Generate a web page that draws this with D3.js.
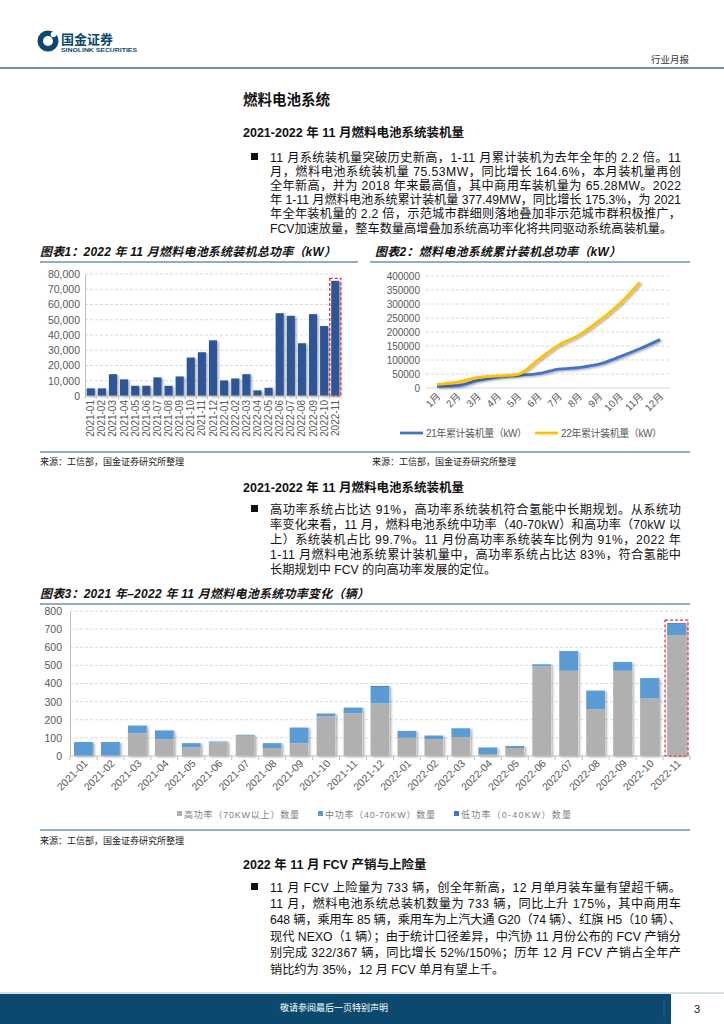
<!DOCTYPE html>
<html>
<head>
<meta charset="utf-8">
<script src="https://cdn.jsdelivr.net/npm/d3@7"></script>
<style>
  body { margin: 0; background: #fff; }
  svg { display: block; font-family: "Liberation Sans", Arial, "Noto Sans CJK SC", sans-serif; }
</style>
</head>
<body>
<div id="page"></div>
<script>
// 图表1 数据: 月度装机总功率 (kW)
const months1 = ["2021-01","2021-02","2021-03","2021-04","2021-05","2021-06","2021-07","2021-08","2021-09","2021-10","2021-11","2021-12",
  "2022-01","2022-02","2022-03","2022-04","2022-05","2022-06","2022-07","2022-08","2022-09","2022-10","2022-11"];
const power1 = [5000,5000,14300,10900,6700,6700,12200,6700,12800,25200,28700,36500,
  10200,11500,14300,3700,5400,54300,52600,34600,53700,45900,75530];
const yTicks1 = [0,10000,20000,30000,40000,50000,60000,70000,80000];

// 图表2 数据: 累计装机量 (kW)
const months2 = ["1月","2月","3月","4月","5月","6月","7月","8月","9月","10月","11月","12月"];
const cum21 = [6000,8000,26000,39000,45000,51000,67000,73000,85000,111000,140000,173000];
const cum22 = [13000,21000,37000,43000,49000,101000,153000,189000,240000,300000,377490];
const yTicks2 = [0,50000,100000,150000,200000,250000,300000,350000,400000];
const seriesNames2 = ["21年累计装机量（kW）","22年累计装机量（kW）"];

// 图表3 数据: 功率变化 (辆)
const months3 = months1;
const highCnt = [0,0,126,93,48,75,112,44,70,218,236,290,100,93,104,11,44,495,470,257,470,317,667];
const midCnt  = [77,77,42,48,23,5,5,27,87,14,31,91,29,20,49,36,11,11,109,104,49,113,61];
const lowCnt  = [0,0,0,0,0,0,0,0,0,2,0,5,8,0,0,0,0,0,0,0,0,0,5];
const yTicks3 = [0,100,200,300,400,500,600,700,800];
const seriesNames3 = ["高功率（70KW以上）数量","中功率（40-70KW）数量","低功率（0-40KW）数量"];

// 正文
const para1 = [
  "11 月系统装机量突破历史新高，1-11 月累计装机为去年全年的 2.2 倍。11",
  "月，燃料电池系统装机量 75.53MW，同比增长 164.6%，本月装机量再创",
  "全年新高，并为 2018 年来最高值，其中商用车装机量为 65.28MW。2022",
  "年 1-11 月燃料电池系统累计装机量 377.49MW，同比增长 175.3%，为 2021",
  "年全年装机量的 2.2 倍，示范城市群细则落地叠加非示范城市群积极推广，",
  "FCV加速放量，整车数量高增叠加系统高功率化将共同驱动系统高装机量。"
];
const para2 = [
  "高功率系统占比达 91%，高功率系统装机符合氢能中长期规划。从系统功",
  "率变化来看，11 月，燃料电池系统中功率（40-70kW）和高功率（70kW 以",
  "上）系统装机占比 99.7%。11 月份高功率系统装车比例为 91%，2022 年",
  "1-11 月燃料电池系统累计装机量中，高功率系统占比达 83%，符合氢能中",
  "长期规划中 FCV 的向高功率发展的定位。"
];
const para3 = [
  "11 月 FCV 上险量为 733 辆，创全年新高，12 月单月装车量有望超千辆。",
  "11 月，燃料电池系统总装机数量为 733 辆，同比上升 175%，其中商用车",
  "648 辆，乘用车 85 辆，乘用车为上汽大通 G20（74 辆）、红旗 H5（10 辆）、",
  "现代 NEXO（1 辆）；由于统计口径差异，中汽协 11 月份公布的 FCV 产销分",
  "别完成 322/367 辆，同比增长 52%/150%；历年 12 月 FCV 产销占全年产",
  "销比约为 35%，12 月 FCV 单月有望上千。"
];

const W = 724, H = 1024;
const svg = d3.select("#page").append("svg").attr("width", W).attr("height", H);
svg.append("rect").attr("width", W).attr("height", H).attr("fill", "#fff");

const defs = svg.append("defs");
defs.append("filter").attr("id", "sh").attr("x", "-30%").attr("y", "-10%").attr("width", "170%").attr("height", "130%")
  .append("feDropShadow").attr("dx", 1.6).attr("dy", 1).attr("stdDeviation", 0.9)
  .attr("flood-color", "#000").attr("flood-opacity", 0.35);

const ruleColor = "#6b93ae";
const axisText = "#595959";
const gridColor = "#d0d0d0";

// ---------- 页眉 ----------
const logo = svg.append("g");
logo.append("circle").attr("cx", 48).attr("cy", 41).attr("r", 7.8).attr("fill", "none")
  .attr("stroke", "#0b4a6e").attr("stroke-width", 5.5);
logo.append("circle").attr("cx", 53.5).attr("cy", 34.5).attr("r", 2.8).attr("fill", "#fff");
logo.append("text").attr("x", 61).attr("y", 44).attr("font-size", 13).attr("font-weight", "bold")
  .attr("fill", "#0b4a6e").attr("font-family", "Noto Sans CJK SC").text("国金证券");
logo.append("text").attr("x", 61).attr("y", 51.5).attr("font-size", 5.8).attr("font-weight", "bold")
  .attr("fill", "#0b4a6e").attr("textLength", 76).attr("lengthAdjust", "spacingAndGlyphs").text("SINOLINK SECURITIES");
svg.append("text").attr("x", 689).attr("y", 63).attr("text-anchor", "end").attr("font-size", 9.5)
  .attr("fill", "#333").attr("font-family", "Noto Sans CJK SC").text("行业月报");
svg.append("rect").attr("x", 0).attr("y", 67).attr("width", W).attr("height", 2).attr("fill", ruleColor);

// ---------- 文本工具 ----------
function heading(txt, x, y, size) {
  svg.append("text").attr("x", x).attr("y", y).attr("font-size", size).attr("font-weight", "bold")
    .attr("fill", "#111").text(txt);
}
function paragraph(lines, y0, step) {
  svg.append("rect").attr("x", 251).attr("y", y0 - 8.5).attr("width", 7).attr("height", 7).attr("fill", "#111");
  lines.forEach((l, i) => {
    const t = svg.append("text").attr("x", 270).attr("y", y0 + i * step).attr("font-size", 12.2)
      .attr("fill", "#111").text(l);
    if (i < lines.length - 1) t.attr("textLength", 411).attr("lengthAdjust", "spacing");
  });
}
function chartTitle(txt, x, y, len, size) {
  svg.append("text").attr("x", x).attr("y", y).attr("font-size", size).attr("font-weight", "bold")
    .attr("font-style", "italic").attr("fill", "#111").attr("textLength", len)
    .attr("lengthAdjust", "spacing").text(txt);
}
function source(x, y) {
  svg.append("text").attr("x", x).attr("y", y).attr("font-size", 9).attr("fill", "#222")
    .attr("font-family", "Noto Sans CJK SC").text("来源：工信部，国金证券研究所整理");
}
function rule(x1, x2, y) {
  svg.append("line").attr("x1", x1).attr("x2", x2).attr("y1", y).attr("y2", y)
    .attr("stroke", ruleColor).attr("stroke-width", 1.5);
}

heading("燃料电池系统", 243, 105, 14.5);
heading("2021-2022 年 11 月燃料电池系统装机量", 243, 137, 12.5);
paragraph(para1, 161.5, 14.2);

// ---------- 图表1 ----------
chartTitle("图表1：2022 年 11 月燃料电池系统装机总功率（kW）", 40, 256, 296, 12);
rule(40, 358, 262);
{
  const x = d3.scaleBand().domain(months1).range([85, 341]).paddingInner(0.27).paddingOuter(0.15);
  const y = d3.scaleLinear().domain([0, 80000]).range([396, 274]);
  const g = svg.append("g");
  g.selectAll(".grid").data(yTicks1.slice(1)).enter().append("line")
    .attr("x1", 85).attr("x2", 341).attr("y1", d => y(d)).attr("y2", d => y(d))
    .attr("stroke", gridColor).attr("stroke-dasharray", "3,2").attr("stroke-width", 0.8);
  g.append("g").attr("transform", "translate(85,0)")
    .call(d3.axisLeft(y).tickValues(yTicks1).tickSize(0).tickPadding(5).tickFormat(d3.format(",")))
    .call(a => a.select(".domain").attr("stroke", "#bfbfbf"))
    .selectAll("text").attr("font-size", 10.5).attr("fill", axisText).attr("font-family", "Liberation Sans");
  g.selectAll(".bar").data(months1).enter().append("rect")
    .attr("x", d => x(d)).attr("width", x.bandwidth())
    .attr("y", (d, i) => y(power1[i])).attr("height", (d, i) => y(0) - y(power1[i]))
    .attr("fill", "#2f5597").attr("filter", "url(#sh)");
  g.append("line").attr("x1", 85).attr("x2", 341).attr("y1", 396).attr("y2", 396).attr("stroke", "#bfbfbf");
  g.selectAll(".tk").data(months1).enter().append("line")
    .attr("x1", d => x(d) - x.step() * x.paddingInner() / 2).attr("x2", d => x(d) - x.step() * x.paddingInner() / 2)
    .attr("y1", 396).attr("y2", 399).attr("stroke", "#bfbfbf");
  g.selectAll(".xl").data(months1).enter().append("text")
    .attr("transform", d => `translate(${x(d) + x.bandwidth() / 2 + 3.5},400)rotate(-90)`)
    .attr("text-anchor", "end").attr("font-size", 10).attr("fill", axisText).text(d => d);
  const last = months1[months1.length - 1];
  g.append("rect").attr("x", x(last) - 1.5).attr("width", x.bandwidth() + 3)
    .attr("y", y(power1[power1.length - 1]) - 2.5).attr("height", y(0) - y(power1[power1.length - 1]) + 2.5)
    .attr("fill", "none").attr("stroke", "#e8262a").attr("stroke-width", 1.2).attr("stroke-dasharray", "3,2");
}

// ---------- 图表2 ----------
chartTitle("图表2：燃料电池系统累计装机总功率（kW）", 375, 256, 246, 12);
rule(370, 690, 262);
{
  const x = d3.scalePoint().domain(months2).range([437, 660]);
  const y = d3.scaleLinear().domain([0, 400000]).range([388, 276]);
  const g = svg.append("g");
  g.selectAll(".grid").data(yTicks2.slice(1)).enter().append("line")
    .attr("x1", 426).attr("x2", 670).attr("y1", d => y(d)).attr("y2", d => y(d))
    .attr("stroke", gridColor).attr("stroke-dasharray", "3,2").attr("stroke-width", 0.8);
  g.append("line").attr("x1", 426).attr("x2", 670).attr("y1", 388).attr("y2", 388).attr("stroke", "#d9d9d9");
  g.append("g").attr("transform", "translate(423,0)")
    .call(d3.axisLeft(y).tickValues(yTicks2).tickSize(0).tickPadding(3).tickFormat(d3.format("d")))
    .call(a => a.select(".domain").remove())
    .selectAll("text").attr("font-size", 10).attr("fill", axisText);
  g.selectAll(".xl").data(months2).enter().append("text")
    .attr("transform", d => `translate(${x(d) + 4},397)rotate(-45)`)
    .attr("text-anchor", "end").attr("font-size", 10).attr("fill", axisText).text(d => d);
  const line = d3.line().x((d, i) => x(months2[i])).y(d => y(d)).curve(d3.curveMonotoneX);
  g.append("path").datum(cum21).attr("d", line).attr("fill", "none").attr("stroke", "#4472c4")
    .attr("stroke-width", 2.8).attr("filter", "url(#sh)");
  g.append("path").datum(cum22).attr("d", line).attr("fill", "none").attr("stroke", "#ffc000")
    .attr("stroke-width", 2.8).attr("filter", "url(#sh)");
  const lg = [[400, "#4472c4"], [535, "#ffc000"]];
  lg.forEach((l, i) => {
    g.append("line").attr("x1", l[0]).attr("x2", l[0] + 23).attr("y1", 433).attr("y2", 433)
      .attr("stroke", l[1]).attr("stroke-width", 2.8);
    g.append("text").attr("x", l[0] + 26).attr("y", 436.5).attr("font-size", 10).attr("fill", axisText)
      .attr("textLength", 101).attr("lengthAdjust", "spacing").text(seriesNames2[i]);
  });
}

rule(40, 690, 452);
source(40, 465);
source(372, 465);

heading("2021-2022 年 11 月燃料电池系统装机量", 243, 492, 12.5);
paragraph(para2, 513.5, 15.2);

// ---------- 图表3 ----------
chartTitle("图表3：2021 年–2022 年 11 月燃料电池系统功率变化（辆）", 40, 598, 329, 12);
rule(40, 690, 604);
{
  const x = d3.scaleBand().domain(months3).range([70, 690]).paddingInner(0.3).paddingOuter(0.15);
  const y = d3.scaleLinear().domain([0, 800]).range([756, 611]);
  const g = svg.append("g");
  g.selectAll(".grid").data(yTicks3.slice(1)).enter().append("line")
    .attr("x1", 70).attr("x2", 690).attr("y1", d => y(d)).attr("y2", d => y(d))
    .attr("stroke", gridColor).attr("stroke-dasharray", "3,2").attr("stroke-width", 0.8);
  g.append("g").attr("transform", "translate(70,0)")
    .call(d3.axisLeft(y).tickValues(yTicks3).tickSize(0).tickPadding(8))
    .call(a => a.select(".domain").attr("stroke", "#bfbfbf"))
    .selectAll("text").attr("font-size", 10.5).attr("fill", axisText);
  const rows = months3.map((m, i) => ({ m: m, high: highCnt[i], mid: midCnt[i], low: lowCnt[i] }));
  const stack = d3.stack().keys(["high", "mid", "low"])(rows);
  const colors = { high: "#b0b0b0", mid: "#5b9bd5", low: "#4472c4" };
  // 阴影层
  g.selectAll(".shadow").data(rows).enter().append("rect")
    .attr("x", d => x(d.m)).attr("width", x.bandwidth())
    .attr("y", d => y(d.high + d.mid + d.low)).attr("height", d => y(0) - y(d.high + d.mid + d.low))
    .attr("fill", "#fff").attr("filter", "url(#sh)");
  stack.forEach(s => {
    g.selectAll(".b-" + s.key).data(s).enter().append("rect")
      .attr("x", d => x(d.data.m)).attr("width", x.bandwidth())
      .attr("y", d => y(d[1])).attr("height", d => y(d[0]) - y(d[1]))
      .attr("fill", colors[s.key]);
  });
  g.append("line").attr("x1", 70).attr("x2", 690).attr("y1", 756).attr("y2", 756).attr("stroke", "#bfbfbf");
  g.selectAll(".tk").data(months3.concat(["end"])).enter().append("line")
    .attr("x1", (d, i) => 70 + x.step() * x.paddingOuter() - x.step() * x.paddingInner() / 2 + i * x.step())
    .attr("x2", (d, i) => 70 + x.step() * x.paddingOuter() - x.step() * x.paddingInner() / 2 + i * x.step())
    .attr("y1", 756).attr("y2", 760).attr("stroke", "#bfbfbf");
  g.selectAll(".xl").data(months3).enter().append("text")
    .attr("transform", d => `translate(${x(d) + x.bandwidth() / 2 + 5},764)rotate(-45)`)
    .attr("text-anchor", "end").attr("font-size", 10.5).attr("fill", axisText).text(d => d);
  const last = rows[rows.length - 1];
  const lt = last.high + last.mid + last.low;
  g.append("rect").attr("x", x(last.m) - 2).attr("width", x.bandwidth() + 4)
    .attr("y", y(lt) - 3).attr("height", y(0) - y(lt) + 3)
    .attr("fill", "none").attr("stroke", "#e8262a").attr("stroke-width", 1.2).attr("stroke-dasharray", "3,2");
  const lgx = [177, 318, 454];
  const lgw = [115, 110, 110];
  ["high", "mid", "low"].forEach((k, i) => {
    g.append("rect").attr("x", lgx[i]).attr("y", 811).attr("width", 5).attr("height", 5).attr("fill", colors[k]);
    g.append("text").attr("x", lgx[i] + 7).attr("y", 817.5).attr("font-size", 9).attr("fill", "#7f7f7f")
      .attr("textLength", lgw[i]).attr("lengthAdjust", "spacing").text(seriesNames3[i]);
  });
}
rule(40, 690, 830);
source(40, 844);

heading("2022 年 11 月 FCV 产销与上险量", 243, 869, 12.5);
paragraph(para3, 891.5, 16.4);

// ---------- 页脚 ----------
svg.append("line").attr("x1", 0).attr("x2", W).attr("y1", 993).attr("y2", 993).attr("stroke", "#a9c0d0").attr("stroke-width", 1);
svg.append("rect").attr("x", 0).attr("y", 994).attr("width", 671).attr("height", 30).attr("fill", "#0b4a6e");
svg.append("line").attr("x1", 664).attr("x2", 664).attr("y1", 1000).attr("y2", 1018).attr("stroke", "#2d6284");
svg.append("text").attr("x", 334).attr("y", 1011).attr("text-anchor", "middle").attr("font-size", 9)
  .attr("fill", "#fff").attr("font-family", "Noto Sans CJK SC").text("敬请参阅最后一页特别声明");
svg.append("text").attr("x", 697).attr("y", 1013).attr("text-anchor", "middle").attr("font-size", 11)
  .attr("fill", "#222").text("3");
</script>
</body>
</html>
